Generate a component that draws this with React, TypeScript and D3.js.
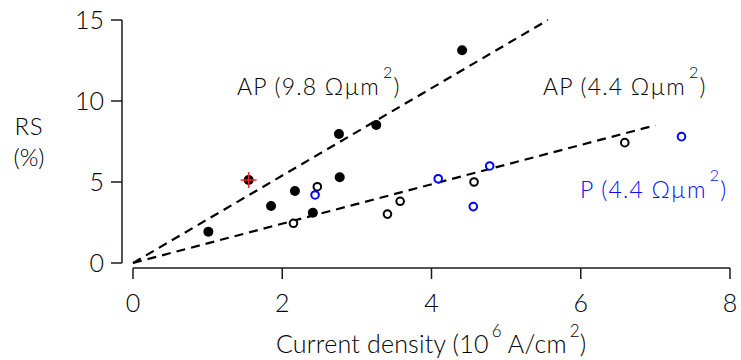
import React from "react";
import * as d3 from "d3";

const xTicks = [0, 2, 4, 6, 8];
const yTicks = [0, 5, 10, 15];

// AP filled points (9.8 Ωµm²)
const apFilledX = [1.01, 1.85, 2.17, 2.41, 2.76, 2.77, 3.26, 4.41];
const apFilledY = [1.93, 3.52, 4.44, 3.1, 7.96, 5.29, 8.52, 13.13];
// highlighted point (red cross)
const highlightX = [1.55];
const highlightY = [5.12];
// AP open black points (4.4 Ωµm²)
const apOpenX = [2.15, 2.47, 3.41, 3.58, 4.57, 6.59];
const apOpenY = [2.45, 4.71, 3.02, 3.81, 5.0, 7.43];
// P open blue points (4.4 Ωµm²)
const pOpenX = [2.44, 4.09, 4.56, 4.78, 7.35];
const pOpenY = [4.2, 5.2, 3.48, 5.99, 7.8];
// fit lines: [x0, x1], [y0, y1]
const fitSteepX = [0, 5.56];
const fitSteepY = [0, 15.0];
const fitShallowX = [0, 7.0];
const fitShallowY = [0, 8.5];

const FONT = "Lato, 'Open Sans', sans-serif";
const W = 741;
const H = 360;
const X0 = 133, X1 = 730, Y0 = 263, Y1 = 20;
const X_AXIS_Y = 268;
const Y_AXIS_X = 122;
const INK = "#000";

export default function App() {
  const x = d3.scaleLinear().domain([0, 8]).range([X0, X1]);
  const y = d3.scaleLinear().domain([0, 15]).range([Y0, Y1]);
  const line = d3
    .line<[number, number]>()
    .x((d) => x(d[0]))
    .y((d) => y(d[1]));
  const pairs = (xs: number[], ys: number[]) =>
    xs.map((v, i) => [v, ys[i]] as [number, number]);

  const Label = ({ px, py, text, color }: { px: number; py: number; text: string; color: string }) => (
    <text x={px} y={py} fontSize={23} letterSpacing={1.2} fill={color}>
      {text}
      <tspan fontSize={16} dx={3} dy={-17}>2</tspan>
      <tspan dy={17}>)</tspan>
    </text>
  );

  return (
    <svg
      width={W}
      height={H}
      style={{ position: "absolute", left: 0, top: 0, background: "#fff" }}
      fontFamily={FONT}
      fontWeight={300}
    >
      {/* y axis */}
      <line x1={Y_AXIS_X} x2={Y_AXIS_X} y1={y(15)} y2={y(0)} stroke="#1a1a1a" strokeWidth={1.5} />
      {yTicks.map((t) => (
        <g key={"y" + t}>
          <line x1={Y_AXIS_X - 11} x2={Y_AXIS_X} y1={y(t)} y2={y(t)} stroke="#1a1a1a" strokeWidth={1.5} />
          <text x={104} y={y(t)} dy="0.36em" textAnchor="end" fontSize={25} fill={INK}>
            {t}
          </text>
        </g>
      ))}
      {/* x axis */}
      <line x1={x(0)} x2={x(8)} y1={X_AXIS_Y} y2={X_AXIS_Y} stroke="#1a1a1a" strokeWidth={1.5} />
      {xTicks.map((t) => (
        <g key={"x" + t}>
          <line x1={x(t)} x2={x(t)} y1={X_AXIS_Y} y2={X_AXIS_Y + 11} stroke="#1a1a1a" strokeWidth={1.5} />
          <text x={x(t)} y={312} textAnchor="middle" fontSize={25} fill={INK}>
            {t}
          </text>
        </g>
      ))}
      {/* axis titles */}
      <text x={29} y={135} textAnchor="middle" fontSize={24} letterSpacing={0.8} fill={INK}>RS</text>
      <text x={29} y={166} textAnchor="middle" fontSize={24} fill={INK}>(%)</text>
      <text x={276} y={353} fontSize={25} letterSpacing={0.2} fill={INK}>
        Current density (10
        <tspan fontSize={17} dx={3} dy={-16}>6</tspan>
        <tspan dy={16}> A/cm</tspan>
        <tspan fontSize={17} dx={3} dy={-16}>2</tspan>
        <tspan dy={16}>)</tspan>
      </text>

      {/* fit lines */}
      <path d={line(pairs(fitSteepX, fitSteepY)) || ""} fill="none" stroke="#000" strokeWidth={2.2} strokeDasharray="9,6" />
      <path d={line(pairs(fitShallowX, fitShallowY)) || ""} fill="none" stroke="#000" strokeWidth={2.2} strokeDasharray="9,6" />

      {/* points */}
      {pairs(apFilledX, apFilledY).map((d, i) => (
        <circle key={"f" + i} cx={x(d[0])} cy={y(d[1])} r={5} fill="#000" />
      ))}
      {pairs(highlightX, highlightY).map((d, i) => (
        <g key={"h" + i}>
          <circle cx={x(d[0])} cy={y(d[1])} r={5} fill="#000" />
          <line x1={x(d[0]) - 8} x2={x(d[0]) + 8} y1={y(d[1])} y2={y(d[1])} stroke="#ff2020" strokeWidth={1.5} />
          <line x1={x(d[0])} x2={x(d[0])} y1={y(d[1]) - 8} y2={y(d[1]) + 8} stroke="#ff2020" strokeWidth={1.5} />
        </g>
      ))}
      {pairs(apOpenX, apOpenY).map((d, i) => (
        <circle key={"o" + i} cx={x(d[0])} cy={y(d[1])} r={3.8} fill="#fff" stroke="#000" strokeWidth={2} />
      ))}
      {pairs(pOpenX, pOpenY).map((d, i) => (
        <circle key={"p" + i} cx={x(d[0])} cy={y(d[1])} r={3.8} fill="#fff" stroke="#0000ff" strokeWidth={2} />
      ))}

      {/* labels */}
      <Label px={237} py={95} text="AP (9.8 Ωµm" color={INK} />
      <Label px={543} py={95} text="AP (4.4 Ωµm" color={INK} />
      <Label px={580} py={198} text="P (4.4 Ωµm" color="#0a0aff" />
    </svg>
  );
}
